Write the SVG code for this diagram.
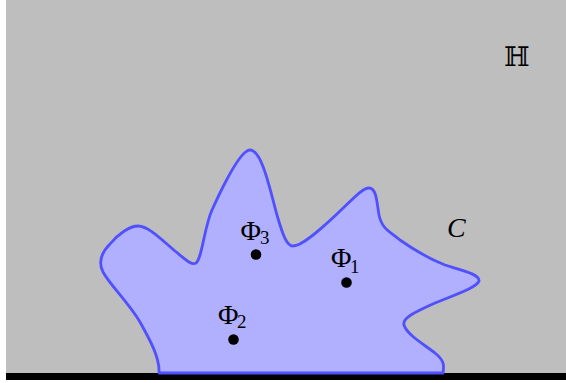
<svg xmlns="http://www.w3.org/2000/svg" width="566" height="383" viewBox="0 0 566 383">
<style>
.lbl{font-family:"Liberation Serif","DejaVu Serif",serif;fill:#000}
.sub{font-size:19px}
.dot{fill:#000}
</style>
<rect x="0" y="0" width="566" height="383" fill="#ffffff"/>
<rect x="6" y="0" width="560" height="374" fill="#bebebe"/>
<rect x="6" y="373" width="560" height="7" fill="#000"/>
<g id="region">
<path d="M 159,373 C 160,358 150,340 140,322 C 128,302 110,285 103,272 C 98,262 102,252 110,244 C 118,234 130,226 138,226 C 148,226 160,238 175,251 C 185,259 192,266 196,263 C 202,259 204,228 212,210 C 222,188 240,150 250,150 C 262,150 270,190 277,215 C 283,236 287,246 293,246 C 302,246 320,230 338,213 C 352,200 362,188 369,188 C 377,188 377,205 379,215 C 382,228 387,230 400,240 C 420,254 432,260 445,265 C 460,270 480,274 479,281 C 477,287 460,293 435,303 C 415,312 402,318 404,325 C 407,335 425,345 435,353 C 445,361 444,366 443,373 Z" fill="#b0b0ff" stroke="#5050ff" stroke-width="2.8" stroke-linejoin="round"/>
</g>
<g id="phi1">
<circle class="dot" cx="346.5" cy="282.5" r="5.3"/>
<text class="lbl" x="331" y="267" font-size="28">Φ<tspan class="sub" x="350" y="273">1</tspan></text>
</g>
<g id="phi2">
<circle class="dot" cx="233.5" cy="339.5" r="5.3"/>
<text class="lbl" x="218" y="324" font-size="28">Φ<tspan class="sub" x="237" y="328">2</tspan></text>
</g>
<g id="phi3">
<circle class="dot" cx="256" cy="254.5" r="5.3"/>
<text class="lbl" x="240.5" y="239.5" font-size="28">Φ<tspan class="sub" x="260" y="243.5">3</tspan></text>
</g>
<g id="labelC">
<text class="lbl" x="447" y="237" font-size="28" font-style="italic">C</text>
</g>
<g id="labelH">
<text x="517" y="66" font-size="27" text-anchor="middle" fill="#000" font-family="DejaVu Serif, DejaVu Sans, serif">ℍ</text>
</g>
</svg>
